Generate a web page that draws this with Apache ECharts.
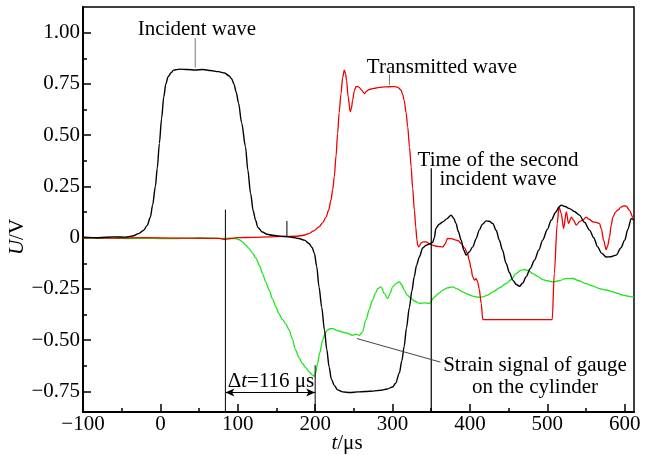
<!DOCTYPE html>
<html><head><meta charset="utf-8">
<script src="https://cdn.jsdelivr.net/npm/echarts@6/dist/echarts.min.js"></script>
<style>html,body{margin:0;padding:0;background:#fff}#c{width:646px;height:455px}</style>
</head><body><div id="c"></div>
<script>
const xTicks = [-100,0,100,200,300,400,500,600];
const xMinorTicks = [-50,50,150,250,350,450,550];
const yTicks = [-0.75,-0.5,-0.25,0,0.25,0.5,0.75,1.0];
const yMinorTicks = [-0.625,-0.375,-0.125,0.125,0.375,0.625,0.875];

const incident = [[-100,0.003],[-80,0.0],[-60,0.004],[-45,0.003],[-36,0.008],[-28,0.02],[-22,0.035],[-17,0.06],[-13,0.10],[-10,0.16],[-6.5,0.25],[-4,0.34],[-1.3,0.46],[1.5,0.58],[4.4,0.687],[7,0.75],[10,0.785],[14,0.805],[17,0.817],[25,0.822],[35,0.82],[45,0.818],[55,0.82],[65,0.815],[75,0.81],[83,0.803],[88.5,0.79],[92,0.775],[95,0.75],[98,0.71],[101,0.656],[105,0.56],[110,0.443],[113,0.33],[116.5,0.217],[120,0.13],[123,0.085],[126,0.05],[131.6,0.028],[138,0.017],[144.5,0.012],[160,0.006],[170,0.002],[179,-0.004],[186,-0.012],[192,-0.028],[196,-0.048],[199,-0.076],[202,-0.14],[205,-0.24],[208.5,-0.34],[212,-0.45],[215,-0.545],[218,-0.63],[221,-0.69],[224.7,-0.72],[229,-0.742],[235.5,-0.752],[245,-0.755],[255,-0.752],[265,-0.75],[275,-0.748],[285,-0.744],[293,-0.738],[300,-0.728],[304,-0.71],[308.8,-0.66],[312,-0.6],[315,-0.53],[318,-0.44],[321.7,-0.34],[325,-0.26],[328,-0.19],[331,-0.135],[334.6,-0.094],[339,-0.05],[343.3,-0.037],[348,-0.03],[352,-0.022],[354,0.0],[356,0.045],[360,0.065],[365,0.077],[370,0.092],[375.7,0.11],[379,0.095],[382,0.069],[385,0.03],[388.6,-0.012],[392,-0.06],[395,-0.085],[399,-0.07],[403.6,-0.045],[408,-0.005],[412,0.037],[416,0.065],[421,0.082],[425,0.08],[429.5,0.069],[434,0.035],[438,-0.012],[442,-0.06],[446.8,-0.126],[451,-0.17],[455.4,-0.207],[460,-0.228],[464,-0.237],[468,-0.222],[472.7,-0.19],[478,-0.15],[483.4,-0.11],[489,-0.06],[494,-0.012],[500,0.04],[505,0.085],[511,0.125],[515,0.15],[518,0.159],[523,0.152],[528.7,0.142],[535,0.128],[541.6,0.11],[548,0.075],[554.6,0.037],[560,0.0],[565,-0.045],[570,-0.075],[576,-0.094],[582,-0.093],[589,-0.085],[595,-0.05],[600,-0.012],[604,0.04],[608.5,0.094],[612,0.085]];

const transmitted = [[-100,0.0],[-60,-0.002],[-20,0.0],[20,-0.002],[60,-0.003],[75,-0.003],[84,-0.008],[90,-0.004],[100,0.0],[120,0.002],[140,0.004],[160,0.006],[175,0.007],[185,0.012],[192,0.02],[198,0.033],[205,0.053],[210,0.075],[214,0.10],[217.5,0.135],[220.4,0.183],[222.7,0.235],[224.7,0.297],[227,0.40],[229,0.508],[231,0.61],[233.4,0.703],[235.5,0.78],[237.6,0.817],[239.2,0.80],[240.6,0.768],[242.5,0.69],[245.4,0.614],[247,0.635],[248.4,0.67],[250.5,0.715],[252.7,0.736],[255,0.738],[257,0.733],[260,0.72],[263.5,0.703],[266.5,0.715],[270,0.723],[276,0.728],[283,0.733],[290,0.735],[296,0.736],[302,0.737],[307,0.733],[311,0.72],[313,0.70],[315,0.67],[317.5,0.61],[319.6,0.54],[322,0.44],[324,0.345],[326,0.24],[328.2,0.134],[330,0.05],[331.5,-0.01],[332.5,-0.037],[334,-0.045],[337,-0.025],[340,-0.02],[343.3,-0.02],[348,-0.03],[352,-0.037],[358,-0.042],[365,-0.045],[368,-0.03],[371,-0.004],[376,-0.005],[382,-0.012],[385,-0.015],[388.6,-0.028],[393,-0.05],[397,-0.077],[399,-0.11],[401.5,-0.15],[403.5,-0.19],[405.8,-0.207],[408,-0.2],[410,-0.215],[412,-0.25],[414.5,-0.32],[416.6,-0.40],[450,-0.40],[480,-0.40],[506.3,-0.40],[509,-0.175],[512.8,0.069],[515,0.15],[518,0.118],[521,0.045],[524.5,0.126],[527.4,0.069],[531,0.10],[534,0.085],[537.4,0.061],[542,0.08],[546,0.085],[550,0.10],[554,0.09],[559,0.077],[563,0.075],[567.5,0.069],[570,0.04],[572.7,-0.012],[576,-0.058],[578,-0.04],[580.4,0.004],[582.5,0.06],[584.7,0.10],[588,0.125],[591,0.134],[595.6,0.15],[599,0.155],[602,0.154],[606,0.134],[610.6,0.10],[612,0.09]];

const strain = [[-100,0.0],[-80,-0.003],[-60,-0.002],[-40,-0.004],[-20,-0.003],[0,-0.004],[20,-0.004],[40,-0.003],[50,0.0],[70,-0.002],[84.6,-0.004],[97.5,-0.004],[102,-0.01],[106,-0.02],[110,-0.035],[114.7,-0.053],[119,-0.075],[123.4,-0.10],[128,-0.135],[132,-0.175],[136,-0.215],[140.6,-0.256],[145,-0.3],[149.3,-0.337],[153,-0.37],[158,-0.40],[162,-0.42],[166.5,-0.45],[170,-0.49],[175,-0.55],[179,-0.585],[183.7,-0.614],[188,-0.635],[192.4,-0.655],[196,-0.668],[199,-0.676],[201,-0.655],[203,-0.614],[206,-0.56],[209.6,-0.50],[213,-0.465],[216,-0.45],[219,-0.444],[222.5,-0.443],[228,-0.452],[235.5,-0.46],[241,-0.465],[248.4,-0.476],[253,-0.47],[257,-0.476],[261,-0.46],[265.7,-0.40],[270,-0.35],[274,-0.305],[278,-0.27],[281,-0.248],[285,-0.24],[289.4,-0.272],[293.7,-0.297],[297,-0.27],[300,-0.24],[304,-0.225],[308.8,-0.215],[312,-0.23],[315,-0.256],[319,-0.28],[324,-0.297],[329,-0.31],[334.6,-0.32],[341,-0.318],[347.6,-0.32],[354,-0.29],[360,-0.27],[365,-0.256],[371,-0.245],[377.7,-0.24],[384,-0.25],[390.7,-0.264],[397,-0.275],[403.6,-0.285],[410,-0.29],[416.6,-0.289],[423,-0.28],[429.5,-0.264],[438,-0.245],[446.8,-0.224],[453,-0.205],[459.8,-0.175],[465,-0.16],[470.5,-0.155],[476,-0.162],[481.2,-0.175],[488,-0.19],[494,-0.204],[500,-0.21],[507,-0.215],[515,-0.21],[524,-0.2],[533,-0.199],[541,-0.21],[550,-0.224],[558,-0.235],[567.5,-0.248],[576,-0.255],[584.7,-0.264],[591,-0.272],[597.7,-0.28],[604,-0.285],[610.6,-0.289],[612,-0.29]];

// annotation guide lines in data coordinates
const leaderIncident = [[45,0.973],[45,0.83]];
const leaderTransmitted = [[296,0.797],[296,0.745]];
const lineStart = [[84,0.1375],[84,-0.85]];
const lineEnd = [[200,-0.622],[200,-0.85]];
const lineSecond = [[350,0.339],[350,-0.85]];
const smallMark = [[163.5,0.082],[163.5,0.004]];
const leaderStrain = [[254,-0.492],[362,-0.607]];
const deltaArrow = [[84,-0.755],[200,-0.755]];

const FONT = 'Liberation Serif';
const chart = echarts.init(document.getElementById('c'), null, {renderer:'canvas'});
function guide(data, color, w){
  return {type:'line', data:data, symbol:'none', silent:true, animation:false, clip:false,
    lineStyle:{color:color, width:w}, z:5};
}
const fmtX = v => String(v).replace('-', '\u2212');
const fmtY = v => v === 0 ? '0' : v.toFixed(2).replace('-', '\u2212');
const axisFont = {fontFamily:FONT, fontSize:21, color:'#000'};

chart.setOption({
  animation:false,
  backgroundColor:'#fff',
  grid:{left:83, right:12, top:7, bottom:43, show:true, borderColor:'#000', borderWidth:1.5, outerBoundsMode:'none', containLabel:false},
  xAxis:[{
    type:'value', min:-100, max:612, position:'bottom',
    axisLine:{show:true, onZero:false, lineStyle:{color:'#000', width:2}},
    axisTick:{show:true, inside:true, length:8, customValues:xTicks, lineStyle:{color:'#000', width:1.5}},
    axisLabel:{show:true, customValues:xTicks, margin:2, formatter:fmtX, ...axisFont},
    splitLine:{show:false}
  },{
    type:'value', min:-100, max:612, position:'bottom',
    axisLine:{show:false, onZero:false},
    axisTick:{show:true, inside:true, length:4, customValues:xMinorTicks, lineStyle:{color:'#000', width:1.5}},
    axisLabel:{show:false}, splitLine:{show:false}
  }],
  yAxis:[{
    type:'value', min:-0.85, max:1.125, position:'left',
    axisLine:{show:true, onZero:false, lineStyle:{color:'#000', width:2}},
    axisTick:{show:true, inside:true, length:8, customValues:yTicks, lineStyle:{color:'#000', width:1.5}},
    axisLabel:{show:true, customValues:yTicks, margin:3, formatter:fmtY, ...axisFont},
    splitLine:{show:false}
  },{
    type:'value', min:-0.85, max:1.125, position:'left',
    axisLine:{show:false, onZero:false},
    axisTick:{show:true, inside:true, length:4, customValues:yMinorTicks, lineStyle:{color:'#000', width:1.5}},
    axisLabel:{show:false}, splitLine:{show:false}
  }],
  series:[
    {name:'Strain signal', type:'line', data:strain, symbol:'none', smooth:0.3, smoothMonotone:'x',
      lineStyle:{color:'#19e619', width:1.3}, z:2,
      markLine:{silent:true, animation:false, symbol:['arrow','arrow'], symbolSize:[6,9],
        label:{show:false}, lineStyle:{color:'#000', width:1, type:'solid'},
        data:[[{coord:deltaArrow[0]},{coord:deltaArrow[1]}]]}},
    {name:'Transmitted wave', type:'line', data:transmitted, symbol:'none', smooth:0.3, smoothMonotone:'x',
      lineStyle:{color:'#ee0000', width:1.3}, z:3},
    {name:'Incident wave', type:'line', data:incident, symbol:'none', smooth:0.3, smoothMonotone:'x',
      lineStyle:{color:'#000', width:1.4}, z:4},
    guide(leaderIncident, '#777', 1),
    guide(leaderTransmitted, '#777', 1),
    guide(lineStart, '#000', 1),
    guide(lineEnd, '#000', 1),
    guide(lineSecond, '#000', 1.2),
    guide(smallMark, '#000', 1),
    guide(leaderStrain, '#444', 1)
  ],
  graphic:[
    {type:'text', x:197, y:29, style:{text:'Incident wave', font:'21px "Liberation Serif"', fill:'#000', align:'center', verticalAlign:'middle'}},
    {type:'text', x:442, y:67, style:{text:'Transmitted wave', font:'21px "Liberation Serif"', fill:'#000', align:'center', verticalAlign:'middle'}},
    {type:'text', x:498, y:160, style:{text:'Time of the second', font:'21px "Liberation Serif"', fill:'#000', align:'center', verticalAlign:'middle'}},
    {type:'text', x:498, y:179, style:{text:'incident wave', font:'21px "Liberation Serif"', fill:'#000', align:'center', verticalAlign:'middle'}},
    {type:'text', x:535, y:365, style:{text:'Strain signal of gauge', font:'21px "Liberation Serif"', fill:'#000', align:'center', verticalAlign:'middle'}},
    {type:'text', x:535, y:387, style:{text:'on the cylinder', font:'21px "Liberation Serif"', fill:'#000', align:'center', verticalAlign:'middle'}},
    {type:'text', x:271, y:381, style:{text:'\u0394{i|t}=116 \u03bcs', font:'21px "Liberation Serif"', fill:'#000', align:'center', verticalAlign:'middle',
      rich:{i:{fontStyle:'italic', fontFamily:FONT, fontSize:21, fill:'#000'}}}},
    {type:'text', x:17, y:237, rotation:Math.PI/2, style:{text:'{i|U}/V', font:'21px "Liberation Serif"', fill:'#000', align:'center', verticalAlign:'middle',
      rich:{i:{fontStyle:'italic', fontFamily:FONT, fontSize:21, fill:'#000'}}}},
    {type:'text', x:347, y:443, style:{text:'{i|t}/\u03bcs', font:'21px "Liberation Serif"', fill:'#000', align:'center', verticalAlign:'middle',
      rich:{i:{fontStyle:'italic', fontFamily:FONT, fontSize:21, fill:'#000'}}}}
  ]
});
</script>
</body></html>
